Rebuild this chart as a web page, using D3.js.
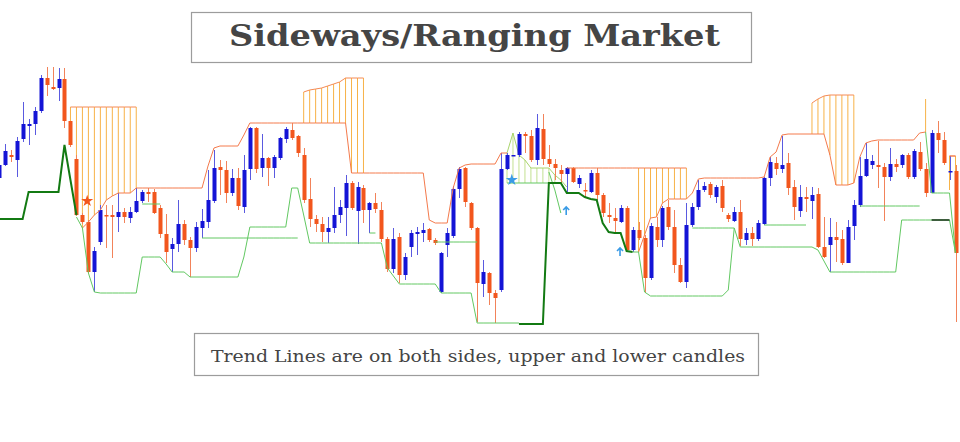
<!DOCTYPE html>
<html>
<head>
<meta charset="utf-8">
<script src="https://cdn.jsdelivr.net/npm/d3@7"></script>
<style>
  body { margin: 0; background: #fff; }
  svg { display: block; }
</style>
</head>
<body>
<div id="viz"></div>
<script>
// candle prices, index 0..160
const opens = [162,175,185,180,201,214,216,229,262,253,252,261,219,181,125,118,68,98,125,125,
  123,128,122,128,139,148,148,132,106,91,96,116,100,92,112,118,139,173,170,147,
  162,133,171,212,172,182,172,182,201,210,204,185,141,121,116,108,112,125,132,157,
  129,152,130,137,130,101,71,103,65,93,106,107,111,100,48,95,104,151,172,137,
  112,56,67,47,50,171,184,185,206,204,180,211,181,176,170,166,172,156,150,148,
  167,145,125,122,118,132,90,110,102,62,113,100,133,113,75,58,115,133,150,156,
  143,154,125,119,128,100,107,101,116,162,177,171,177,153,129,143,139,146,93,95,
  103,101,77,114,135,164,175,175,173,163,176,175,185,163,188,171,147,207,200,168,169];
const highs = [180,196,190,203,238,221,233,265,273,273,272,272,219,185,127,120,93,135,135,135,
  147,132,133,152,150,152,151,135,126,102,140,120,103,118,131,170,190,180,179,171,
  172,185,213,213,206,183,185,203,213,217,205,192,162,125,123,123,153,140,165,159,
  158,155,138,147,138,103,112,107,87,110,113,117,112,102,88,112,154,173,173,138,
  113,80,68,50,187,187,185,208,208,210,226,226,195,181,175,173,173,165,157,170,
  172,147,137,132,135,134,113,118,105,117,123,134,140,130,82,137,137,160,158,158,
  155,160,127,133,140,112,113,120,163,183,183,204,187,160,155,153,153,152,123,122,
  118,110,120,140,183,197,185,199,177,192,181,186,187,191,198,177,210,219,208,184,175];
const lows = [158,174,178,163,198,195,205,227,244,250,239,212,193,124,116,67,48,95,92,82,
  108,117,117,127,137,138,126,102,77,68,88,95,63,88,102,112,137,145,137,144,
  130,127,160,167,163,154,162,180,197,200,183,137,113,108,98,97,107,117,104,130,
  96,117,107,127,98,68,67,57,60,83,85,98,98,95,47,83,102,142,133,110,
  18,43,35,17,48,170,184,183,187,178,175,175,173,160,157,148,157,152,143,147,
  140,123,117,108,117,88,88,100,47,60,93,93,110,67,57,52,113,130,148,142,
  137,128,118,118,94,95,94,99,115,154,165,167,145,120,123,128,121,92,82,68,
  78,75,77,100,133,163,171,152,119,159,168,172,161,161,169,143,147,187,175,160,18];
const closes = [175,189,183,199,216,216,229,262,255,251,261,219,195,125,118,68,89,130,124,123,
  128,123,128,139,148,146,127,106,88,96,116,100,92,113,119,140,172,170,147,162,
  134,170,212,171,182,172,183,202,211,202,187,140,121,116,108,112,125,133,157,132,
  153,130,137,131,101,71,101,65,83,107,108,110,100,97,87,107,151,171,138,112,
  57,68,47,42,171,185,185,206,204,180,212,181,176,172,166,172,158,162,149,167,
  145,127,123,119,132,90,110,102,62,114,100,132,113,75,58,115,133,150,154,145,
  153,132,121,128,101,107,101,117,162,178,171,175,152,133,143,141,145,93,83,103,
  100,77,113,135,164,181,179,173,163,176,173,185,163,189,171,147,207,200,177,169,87];

// upper trend lines (orange): [first index, levels]
const upper1 = [112,118,125,130,140,144,147,147,147,152, 152,152,152,152,152,152,152,152,152,152,152,
  174,192,194,194,194,194,205,217, 217,217,217,217,217,217,217,217,217,217,217,217,217,217,217,217,
  167,167,167,167,167,167,167,167,167,167,167,167,167, 120,117,117,117,152,172,175,176,176,176,176,176,187,187];
const upper2 = [172,172,172,172,172,172,172,172,172,172,172,172,172,172,172,172,172,172,172,172,172];
const upper3 = [88,105,122,123,137,141,141,141,141,147,161, 162,162,162,162,162,162,162,162,162,162,
  163,183,188,205, 206,206,206,206,206,206,206, 185,155,155,155,157,183,197,199,200,
  200,200,200,200,200,200,207,208];
const upper4 = [184,184];
const upperSegments = [[14, upper1], [95, upper2], [107, upper3], [159, upper4]];

// lower trend lines (light green)
const lower1 = [123,112,67,48, 47,47,47,47,47,47,47, 83,83,83,83, 76, 68,68,68, 63,
  63,63,63,63,63,63,63,63, 83, 113, 113,113,113,113,113,113, 152,152, 125, 97,
  97,97,97,97,97,97,97,97,97,97,97,97, 72,64,56, 56,56,56,56,56,56, 47, 47,47,47,47,47,
  17, 17,17,17,17,17,17,17];
const lower2 = [88,88,48,44, 44,44,44,44,44,44,44,44,44,44,44,44, 50,112,93,
  93,93,93,93,93,93,93,93,93,93,93,93, 90,79,68, 68,68,68,68,68,68,68,68,68,68,68,
  120, 120,120,120,120,120,120,120,120, 87];
const lowerShort = [
  [24, [136,136,136,136]],
  [34, [102,102,102,102,102,102,102,102,102,102,102,102,102,102,102,102,102]],
  [62, [107,107]],
  [73, [98,98,98,98,98,98,98,98]],
  [85, [157,157,157,157,157,157,157,157,157,157]],
  [92, [168,150,127]],
  [116, [112,112,112,112,112,112,112,112]],
  [128, [115,115,115,115,115,115,115,115]],
  [144, [134,134,134,134,134,134,134,134,134,134,134]],
  [155, [208,147,147,147,147,87]]
];
const lowerSegments = [[13, lower1], [106, lower2]].concat(lowerShort);

// main trend (dark green)
const trend1 = [121,121,121,121,121,148,148,148,148,148,148,195,160,125];
const trend2 = [16,16,16,16,16,157,157,157,147,147,147,143,141,140,117,108,107,107,89,88];
const trend3 = [120,120,120,120];
const trendSegments = [[0, trend1], [87, trend2]];
const flatSegments = [[156, trend3]];

// hatched zones: [first index, tops, bottoms]
const hatchZones = [
  [12, [233,233,233,233,233,233,233,233,233,233,233,233],
       [219,181,112,118,125,130,140,144,147,147,147,152]],
  [51, [248,250,251,252,254,256,258,262,262,262,262],
       [217,217,217,217,217,217,217,217,167,167,167]],
  [107, [172,172,172,172,172,172,172,172,172],
        [88,105,122,123,137,141,141,141,141]],
  [136, [237,241,244,245,245,245,245,245],
        [206,206,206,185,155,155,155,157]],
  [155, [241], [208]],
  [159, [184,184], [150,150]]
];
const hatchTops = [0, 1, 3, 5];
const greenHatch = [85, [187,207,185,180,172,172,172,172,165], [157,157,157,157,157,157,157,157,157]];
const greenHatchTop = [85, [187,207,185,180,172,172,172,172,165,160,153]];

// signals
const stars = [{i: 14.8, p: 139, color: "#f2561d"}, {i: 85.8, p: 160, color: "#3a9be6"}];
const arrows = [{i: 94.9, p: 129}, {i: 103.9, p: 88}];

const width = 960, height = 442;
const svg = d3.select("#viz").append("svg")
  .attr("width", width)
  .attr("height", height)
  .style("background-color", "#fff");

const x = d3.scaleLinear().domain([0, 160]).range([-1.3, 955.5]);
const y = d3.scaleLinear().domain([0, 280]).range([340, 60]);

const pts = (start, vals) => vals.map((p, k) => ({i: start + k, p}));
const line = d3.line().x(d => x(d.i)).y(d => y(d.p));

// hatches
const gh = svg.append("g");
hatchZones.forEach(([start, tops, bots]) => {
  gh.selectAll(null)
    .data(tops.map((t, k) => ({i: start + k, t, b: bots[k]})))
    .join("line")
    .attr("x1", d => x(d.i)).attr("x2", d => x(d.i))
    .attr("y1", d => y(d.t)).attr("y2", d => y(d.b))
    .attr("stroke", "#f7b247").attr("stroke-width", 1);
});
hatchTops.forEach(k => {
  const [start, tops] = hatchZones[k];
  gh.append("path").attr("d", line(pts(start, tops)))
    .attr("fill", "none").attr("stroke", "#f58a55").attr("stroke-width", 1);
});
gh.selectAll(null)
  .data(greenHatch[1].map((t, k) => ({i: greenHatch[0] + k, t, b: greenHatch[2][k]})))
  .join("line")
  .attr("x1", d => x(d.i)).attr("x2", d => x(d.i))
  .attr("y1", d => y(d.t)).attr("y2", d => y(d.b))
  .attr("stroke", "#c3e090").attr("stroke-width", 1);
gh.append("path").attr("d", line(pts(greenHatchTop[0], greenHatchTop[1])))
  .attr("fill", "none").attr("stroke", "#a9d46c").attr("stroke-width", 1);

// candles
const candles = opens.map((o, i) => ({i, o, h: highs[i], l: lows[i], c: closes[i]}));
const col = d => d.c >= d.o ? "#1414d6" : "#f2561d";
const wickCol = d => d.c >= d.o ? "#5a5ae0" : "#f2835a";
const gc = svg.append("g");
gc.selectAll("line")
  .data(candles)
  .join("line")
  .attr("x1", d => Math.round(x(d.i)) + 0.5).attr("x2", d => Math.round(x(d.i)) + 0.5)
  .attr("y1", d => y(d.h)).attr("y2", d => y(d.l))
  .attr("stroke", wickCol).attr("stroke-width", 1);
gc.selectAll("rect")
  .data(candles)
  .join("rect")
  .attr("x", d => Math.round(x(d.i)) - 1.5)
  .attr("width", 4)
  .attr("y", d => y(Math.max(d.o, d.c)))
  .attr("height", d => Math.max(1.5, Math.abs(y(d.o) - y(d.c))))
  .attr("fill", col);

// trend lines
const gl = svg.append("g");
upperSegments.forEach(([start, vals]) => {
  gl.append("path").attr("d", line(pts(start, vals)))
    .attr("fill", "none").attr("stroke", "#f47a4c").attr("stroke-width", 1);
});
lowerSegments.forEach(([start, vals]) => {
  gl.append("path").attr("d", line(pts(start, vals)))
    .attr("fill", "none").attr("stroke", "#62c862").attr("stroke-width", 1);
});
trendSegments.forEach(([start, vals]) => {
  gl.append("path").attr("d", line(pts(start, vals)))
    .attr("fill", "none").attr("stroke", "#137a13").attr("stroke-width", 2);
});
flatSegments.forEach(([start, vals]) => {
  gl.append("path").attr("d", line(pts(start, vals)))
    .attr("fill", "none").attr("stroke", "#163016").attr("stroke-width", 1.5);
});

// signals
svg.append("g").selectAll("path")
  .data(stars)
  .join("path")
  .attr("transform", d => `translate(${x(d.i)},${y(d.p)})`)
  .attr("d", d3.symbol(d3.symbolStar).size(45))
  .attr("fill", d => d.color);
svg.append("g").selectAll("path")
  .data(arrows)
  .join("path")
  .attr("d", d => {
    const cx = x(d.i), cy = y(d.p);
    return `M${cx - 3},${cy - 1} L${cx},${cy - 4} L${cx + 3},${cy - 1} M${cx},${cy - 4} V${cy + 4}`;
  })
  .attr("fill", "none").attr("stroke", "#3a9be6").attr("stroke-width", 1.6);

// title boxes
svg.append("rect")
  .attr("x", 191.5).attr("y", 12.5).attr("width", 560).attr("height", 50)
  .attr("fill", "#fff").attr("stroke", "#9c9c9c").attr("stroke-width", 1.2);
svg.append("text")
  .attr("x", 474.5).attr("y", 46)
  .attr("text-anchor", "middle")
  .attr("textLength", 491).attr("lengthAdjust", "spacingAndGlyphs")
  .style("font-family", "'DejaVu Serif', 'Liberation Serif', serif")
  .style("font-weight", "bold")
  .style("font-size", "29px")
  .style("fill", "#454545")
  .text("Sideways/Ranging Market");

svg.append("rect")
  .attr("x", 194.5).attr("y", 333.5).attr("width", 564).attr("height", 42)
  .attr("fill", "#fff").attr("stroke", "#9c9c9c").attr("stroke-width", 1.2);
svg.append("text")
  .attr("x", 478).attr("y", 362)
  .attr("text-anchor", "middle")
  .attr("textLength", 534).attr("lengthAdjust", "spacingAndGlyphs")
  .style("font-family", "'DejaVu Serif', 'Liberation Serif', serif")
  .style("font-size", "17px")
  .style("fill", "#444")
  .text("Trend Lines are on both sides, upper and lower candles");
</script>
</body>
</html>
